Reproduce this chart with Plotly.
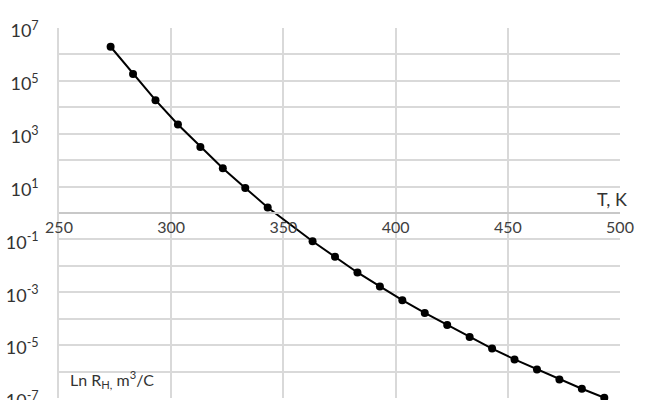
import plotly.graph_objects as go

# Data (T in K, R_H on a log scale)
temperature = [273, 283, 293, 303, 313, 323, 333, 343,
               363, 373, 383, 393, 403, 413, 423, 433, 443, 453, 463, 473, 483, 493]
log_rh = [6.29, 5.26, 4.27, 3.35, 2.50, 1.69, 0.95, 0.21,
          -1.07, -1.66, -2.25, -2.78, -3.30, -3.78, -4.24, -4.69, -5.13, -5.54, -5.92, -6.30, -6.65, -6.99]
rh = [10 ** v for v in log_rh]

x_ticks = [250, 300, 350, 400, 450, 500]
decades = list(range(-7, 8))
y_tickvals = [10 ** k for k in decades]
y_ticktext = [f"10<sup>{k}</sup>" if k % 2 else "" for k in decades]

grid = "#d9d9d9"
font = "Lato, 'Open Sans', sans-serif"

fig = go.Figure()
fig.add_trace(go.Scatter(
    x=temperature, y=rh, mode="lines+markers",
    line=dict(color="black", width=2),
    marker=dict(color="black", size=8),
    showlegend=False, cliponaxis=False,
))

fig.update_layout(
    width=646, height=400,
    margin=dict(l=59, r=26, t=28, b=2, autoexpand=False),
    paper_bgcolor="white", plot_bgcolor="white",
    font=dict(family=font, color="#404040"),
    xaxis=dict(
        range=[250, 500], tickvals=x_ticks,
        anchor="free", position=0.5, automargin=False,
        showgrid=True, gridcolor=grid, gridwidth=1.5,
        showline=True, linecolor="#c8c8c8", linewidth=1.5,
        ticks="", tickfont=dict(size=16, color="#404040"),
        zeroline=False,
    ),
    yaxis=dict(
        type="log", range=[-7, 7], automargin=False,
        tickvals=y_tickvals, ticktext=y_ticktext,
        showgrid=True, gridcolor=grid, gridwidth=1.5,
        showline=True, linecolor=grid, linewidth=1.5,
        ticks="", ticklabelstandoff=15, ticklabeloverflow="allow",
        ticklabelshift=3,
        tickfont=dict(size=18, color="#333333"),
        zeroline=False,
    ),
    annotations=[
        dict(text="T, K", x=500, y=0, xref="x", yref="y",
             xanchor="right", yanchor="bottom", xshift=9, yshift=1,
             showarrow=False, font=dict(size=18, color="#333333")),
        dict(text="Ln R<sub>H,</sub> m<sup>3</sup>/C", x=0, y=0,
             xref="paper", yref="paper", xanchor="left", yanchor="bottom",
             xshift=9, yshift=5, showarrow=False,
             font=dict(size=16, color="#333333")),
    ],
)

fig.write_html("out.html")
